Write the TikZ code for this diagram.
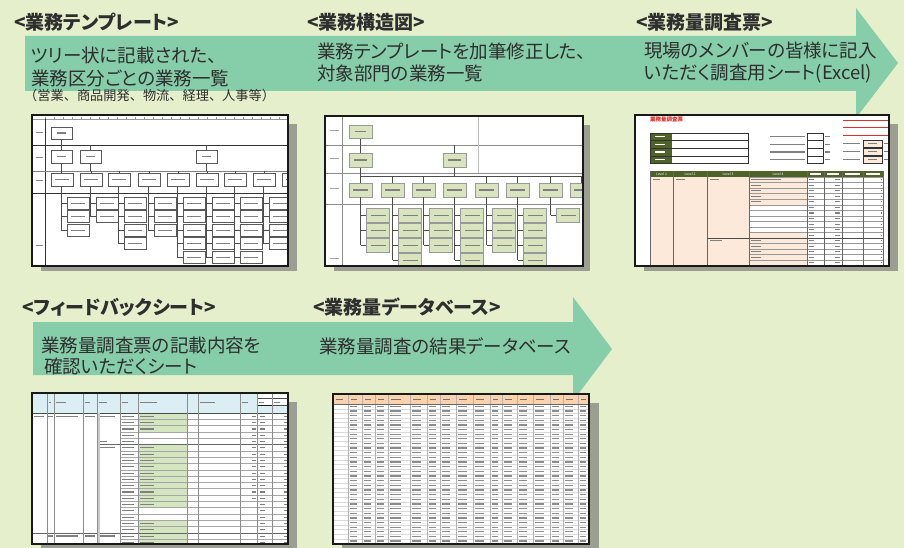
\documentclass[tikz,border=0pt]{standalone}
\usepackage{fontspec}
\setmainfont{Noto Sans CJK JP}[RawFeature=+palt]
\newfontfamily\plainjp{Noto Sans CJK JP}
\definecolor{bgc}{HTML}{E6EFCB}
\definecolor{arrc}{HTML}{86CDA9}
\definecolor{shad}{HTML}{9D9E92}
\definecolor{txtc}{HTML}{2E2E2E}
\definecolor{boxg}{HTML}{D7E4BD}
\definecolor{olive}{HTML}{4F6228}
\definecolor{pinkc}{HTML}{FDE9D9}
\definecolor{blueh}{HTML}{DAEEF3}
\definecolor{greenc}{HTML}{D3E6BF}
\definecolor{orangeh}{HTML}{FAD3AE}
\definecolor{redt}{HTML}{E0302A}
\begin{document}
\begin{tikzpicture}[x=1pt,y=-1pt,
  head/.style={font=\bfseries\fontsize{19}{19}\selectfont, text=txtc, anchor=west, inner sep=0pt},
  body/.style={font=\fontsize{18.5}{22.5}\selectfont, text=txtc, anchor=west, inner sep=0pt, align=left},
  bodyb/.style={font=\fontsize{18.5}{20.5}\selectfont, text=txtc, anchor=west, inner sep=0pt, align=left},
  note/.style={font=\plainjp\fontsize{13.2}{13.2}\selectfont, text=txtc, anchor=west, inner sep=0pt},
  framebox/.style={draw=black!90, line width=2.2pt},
  tline/.style={draw=black!70, line width=0.5pt},
  tbox/.style={draw=black!65, fill=white, line width=0.5pt},
  sbox/.style={draw=black!40, fill=boxg, line width=0.5pt},
  bar/.style={fill=black!50},
  tiny/.style={font=\fontsize{3.4}{3.4}\selectfont, inner sep=0pt}
]
\fill[bgc] (0,0) rectangle (904,548);
\useasboundingbox (0,0) rectangle (904,548);

% ---------------- arrows
\fill[arrc] (25,36) -- (856,36) -- (856,8) -- (898,63) -- (856,118) -- (856,91) -- (25,91) -- cycle;
\fill[arrc] (33,322) -- (573,322) -- (573,297) -- (612,349) -- (573,401) -- (573,375) -- (33,375) -- cycle;

% ---------------- screenshot 1 : template
\fill[shad] (41,124) rectangle (297,271);
\fill[white] (32,115) rectangle (288,266);
\begin{scope}
\clip (33,116) rectangle (287,265);
\draw[black!40, line width=0.4] (33,119) -- (287,119);
\foreach \i in {0,...,27} \draw[black!40, line width=0.3] ({45+\i*9},117) -- ({45+\i*9},119);
\draw[black!80, line width=0.5] (45,119) -- (45,265);
\draw[black!80, line width=0.7] (33,145) -- (287,145);
\draw[black!50, line width=0.5] (33,171) -- (287,171);
\draw[black!80, line width=0.7] (33,193) -- (287,193);
\foreach \y in {132,157,180,245} \fill[black!45] (36,\y) rectangle ++(7,1.2);
\draw[tline] (61.5,139) -- (61.5,150);
\draw[tline] (90.5,145) -- (90.5,150);
\draw[tline] (206.5,145) -- (206.5,150);
\draw[tline] (61.5,163) -- (61.5,173);
\draw[tline] (90.5,163) -- (90.5,171);
\draw[tline] (206.5,163) -- (206.5,171);
\foreach \x in {80,108,138,167,196,224,253,282} \draw[tline] ({\x+11},171) -- ({\x+11},173);
\draw[tbox] (51,127) rectangle ++(21,12);
\fill[bar] (57,132.5) rectangle ++(9,1.2);
\foreach \x in {51,80,196} {
  \draw[tbox] (\x,150) rectangle ++(21,13);
  \fill[bar] ({\x+6},156) rectangle ++(9,1.2);
}
\foreach \x/\n in {51/3,80/2,108/4,138/3,167/5,196/5,224/5,253/4,282/5} {
  \draw[tbox] (\x,173) rectangle ++(22,13);
  \fill[bar] ({\x+4},179) rectangle ++(14,1.2);
  \draw[tline] ({\x+10},186) -- ({\x+10},{197+(\n-1)*13.5+6});
  \foreach \k in {1,...,\n} {
    \draw[tline] ({\x+10},{197+(\k-1)*13.5+6}) -- ({\x+16},{197+(\k-1)*13.5+6});
    \draw[tbox] ({\x+16},{197+(\k-1)*13.5}) rectangle ++(22,12);
    \fill[bar] ({\x+20},{197+(\k-1)*13.5+5.5}) rectangle ++(14,1.2);
  }
}
\end{scope}
\draw[framebox] (32,115) rectangle (288,266);

% ---------------- screenshot 2 : structure
\fill[shad] (334,125) rectangle (590,271);
\fill[white] (325,116) rectangle (583,266);
\begin{scope}
\clip (326,117) rectangle (582,265);
\draw[black!45, line width=0.5] (342,117) -- (342,265);
\foreach \y in {145,173,204} \draw[black!45, line width=0.6] (326,\y) -- (582,\y);
\draw[black!25, line width=0.4] (478,117) -- (478,173);
\foreach \y in {130,158,188,258} \fill[black!35] (330,\y) rectangle ++(9,1);
\draw[tline] (360.5,138) -- (360.5,153);
\draw[tline] (454.5,145) -- (454.5,153);
\draw[tline] (360.5,167) -- (360.5,183);
\draw[tline] (454.5,167) -- (454.5,176);
\draw[tline] (360.5,176) -- (582,176);
\foreach \x in {381,412,475,506,539,570} \draw[tline] ({\x+11.5},176) -- ({\x+11.5},183);
\draw[sbox] (349,125) rectangle ++(23,13);
\fill[bar] (355,131) rectangle ++(11,1.2);
\foreach \x in {349,443} {
  \draw[sbox] (\x,153) rectangle ++(23,14);
  \fill[bar] ({\x+5},159.5) rectangle ++(13,1.2);
}
\foreach \x in {349,381,412,443,475,506,539,570} {
  \draw[sbox] (\x,183) rectangle ++(23,14);
  \fill[bar] ({\x+4},189.5) rectangle ++(15,1.2);
}
\foreach \x/\n in {349/3,381/4,412/3,443/4,475/3,506/4,539/1} {
  \draw[tline] ({\x+11.5},197) -- ({\x+11.5},{208+(\n-1)*15+7});
  \foreach \k in {1,...,\n} {
    \draw[tline] ({\x+11.5},{208+(\k-1)*15+7}) -- ({\x+17.5},{208+(\k-1)*15+7});
    \draw[sbox] ({\x+17.5},{208+(\k-1)*15}) rectangle ++(23,14.5);
    \fill[bar] ({\x+21.5},{208+(\k-1)*15+6.5}) rectangle ++(15,1.2);
  }
}
\end{scope}
\draw[framebox] (325,116) rectangle (583,266);

% ---------------- screenshot 3 : survey sheet
\fill[shad] (644,124) rectangle (898,271);
\fill[white] (635,115) rectangle (889,266);
\begin{scope}
\clip (636,116) rectangle (888,265);
\node[tiny, font=\bfseries\fontsize{5.5}{5.5}\selectfont, text=redt, anchor=west] (stitle) at (650,119.5) {業務量調査票};
\foreach \i in {0,...,3} {
  \fill[olive] (650,{133+\i*7.6}) rectangle ++(22,7.6);
  \draw[black!80, line width=0.4] (650,{133+\i*7.6}) rectangle ++(98,7.6);
  \fill[white] (655,{136.2+\i*7.6}) rectangle ++(10,1.2);
  \fill[black!50] (770,{136.2+\i*7.6}) rectangle ++(35,1.2);
  \draw[black!80, line width=0.4] (807,{133+\i*7.6}) rectangle ++(16,7.6);
  \fill[black!50] (825,{136.2+\i*7.6}) rectangle ++(5,1.2);
}
\foreach \y in {120,127,135} \fill[redt] (843,\y) rectangle ++(46,1.3);
\foreach \i in {0,1,2} {
  \fill[black!50] (843,{143+\i*8}) rectangle ++(17,1.2);
  \filldraw[fill=pinkc, draw=black!80, line width=0.4] (863,{140+\i*8}) rectangle ++(19,7.5);
  \fill[black!50] (868,{143+\i*8}) rectangle ++(9,1.2);
  \fill[black!50] (884,{143+\i*8}) rectangle ++(5,1.2);
}
\fill[olive] (650,171) rectangle (883,177);
\node[tiny, text=white] (lv1) at (661.5,174) {Level 1};
\node[tiny, text=white] (lv2) at (690,174) {Level 2};
\node[tiny, text=white] (lv3) at (728,174) {Level 3};
\node[tiny, text=white] (lv4) at (778,174) {Level 4};
\foreach \a/\b in {807/824,824/842,842/863,863/883} \fill[white] ({\a+3},173.4) rectangle ({\b-3},174.6);
\fill[pinkc] (650,177) rectangle (807,266);
\foreach \k in {5,...,9} \fill[white] (749,{177+\k*5.545}) rectangle ++(58,5.545);
\foreach \k in {0,...,15} {
  \draw[black!40, line width=0.3] (749,{177+\k*5.545}) -- (883,{177+\k*5.545});
  \fill[black!50] (809,{179.2+\k*5.545}) rectangle ++(5,1.1);
  \fill[black!50] (835,{179.2+\k*5.545}) rectangle ++(5,1.1);
  \fill[black!50] (880.5,{179.2+\k*5.545}) rectangle ++(1.5,1.1);
}
\foreach \k in {0,...,4,11,12,13,14} \fill[black!50] (751,{179.2+\k*5.545}) rectangle ++({\k==0 ? 30 : 10},1.1);
\fill[black!50] (653,179.2) rectangle ++(7,1.1);
\fill[black!50] (676,179.2) rectangle ++(9,1.1);
\fill[black!50] (710,179.2) rectangle ++(9,1.1);
\fill[black!50] (710,240.2) rectangle ++(12,1.1);
\foreach \x in {673,707,749,807,824,842,863,883} \draw[black!60, line width=0.4] (\x,171) -- (\x,266);
\draw[black!60, line width=0.4] (650,171) -- (650,266);
\draw[black!70, line width=0.5] (707,238) -- (883,238);
\end{scope}
\draw[framebox] (635,115) rectangle (889,266);

% ---------------- screenshot 4 : feedback sheet
\fill[shad] (41,402) rectangle (297,548);
\fill[white] (32,393) rectangle (288,544);
\begin{scope}
\clip (33,394) rectangle (287,543);
\fill[blueh] (32,393) rectangle (257,413);
\fill[blueh] (257,405) rectangle (288,413);
\draw[black!70, line width=0.4] (257,398) -- (288,398);
\draw[black!70, line width=0.4] (257,405) -- (288,405);
\draw[black!90, line width=0.8] (257,405) rectangle (272,413);
\foreach \a/\b in {47/54,54/83,83/97,97/120,120/138,138/187,198/240,240/257,257/272,272/288} \fill[black!50] ({\a+2},402) rectangle ({\a+2+0.35*(\b-\a)},403.2);
\foreach \k in {0,1,2,5,6,7,8,9,10,11,12,13,14,17,18,19,20} \fill[greenc] (138,{413+\k*6.3}) rectangle ++(49,6.3);
\foreach \k in {0,...,20} {
  \draw[black!35, line width=0.3] (120,{413+\k*6.3}) -- (288,{413+\k*6.3});
  \fill[black!50] (122,{415.8+\k*6.3}) rectangle ++(12,1.1);
  \fill[black!50] (260,{415.8+\k*6.3}) rectangle ++(5,1.1);
  \fill[black!50] (284,{415.8+\k*6.3}) rectangle ++(3,1.1);
}
\foreach \k in {0,1,2,5,6,7,8,9,10,11,12,13,14,17,18,19,20} \fill[black!50] (140,{415.8+\k*6.3}) rectangle ++(14,1.1);
\foreach \k in {0,...,4,5,6,7,8,9,10,11,12,13} \fill[black!50] (252,{415.8+\k*6.3}) rectangle ++(4,1.1);
\fill[black!50] (34,415.8) rectangle ++(10,1.1);
\foreach \y in {415.8,535.4} {
  \fill[black!50] (48,\y) rectangle ++(5,1.1);
  \fill[black!50] (56,\y) rectangle ++(22,1.1);
  \fill[black!50] (85,\y) rectangle ++(10,1.1);
  \fill[black!50] (99,\y) rectangle ++(16,1.1);
}
\fill[black!50] (99,447.3) rectangle ++(16,1.1);
\fill[black!50] (99,441) rectangle ++(8,1.1);
\draw[black!70, line width=0.4] (32,413) -- (288,413);
\draw[black!60, line width=0.4] (97,444.5) -- (288,444.5);
\draw[black!60, line width=0.4] (32,532.7) -- (288,532.7);
\foreach \x in {47,54,83,97,120,138,187,198,240,257,272} \draw[black!45, line width=0.4] (\x,393) -- (\x,544);
\draw[black!20, line width=2pt] (99,413) -- (99,544);
\end{scope}
\draw[framebox] (32,393) rectangle (288,544);

% ---------------- screenshot 5 : database
\fill[shad] (342,403) rectangle (599,548);
\fill[white] (333,394) rectangle (589,544);
\begin{scope}
\clip (334,395) rectangle (588,543);
\fill[orangeh] (333,394) rectangle (589,404);
\foreach \a/\b in {333/348,348/362,362/375,375/388,388/410,410/427,427/440,440/456,456/473,473/490,490/502,502/517,517/533,533/550,550/563,563/578,578/589} {
  \fill[black!55] ({\a+3},398.5) rectangle ({\a+3+0.45*(\b-\a)},399.8);
}
\foreach \rr in {0,...,29} {
  \draw[black!15, line width=0.3] (333,{404+\rr*4.65}) -- (589,{404+\rr*4.65});
  \foreach \a/\b in {348/362,362/375,375/388,388/410,410/427,427/440,440/456,456/473,473/490,490/502,502/517,517/533,533/550,550/563,563/578,578/589} {
    \fill[black!45] ({\a+2},{405.6+\rr*4.65}) rectangle ({\a+2+0.5*(\b-\a)},{406.9+\rr*4.65});
  }
}
\foreach \x in {348,362,375,388,410,427,440,456,473,490,502,517,533,550,563,578} \draw[black!30, line width=0.3] (\x,394) -- (\x,544);
\draw[black!60, line width=0.4] (333,404) -- (589,404);
\end{scope}
\draw[framebox] (333,394) rectangle (589,544);

% ---------------- texts
\node[head] (h1) at (14,22) {<業務テンプレート>};
\node[head] (h2) at (307,22) {<業務構造図>};
\node[head] (h3) at (636,22) {<業務量調査票>};
\node[body] (t1) at (31,67) {ツリー状に記載された、\\業務区分ごとの業務一覧};
\node[note] (t1b) at (24,95) {（営業、商品開発、物流、経理、人事等）};
\node[body] (t2) at (317,62.5) {業務テンプレートを加筆修正した、\\対象部門の業務一覧};
\node[body] (t3) at (644,62.5) {現場のメンバーの皆様に記入\\いただく調査用シート(Excel)};
\node[head] (h4) at (22,307) {<フィードバックシート>};
\node[head] (h5) at (313,307) {<業務量データベース>};
\node[bodyb] (t4) at (41,356) {業務量調査票の記載内容を\\\hspace{3pt}確認いただくシート};
\node[body] (t5) at (319,346) {業務量調査の結果データベース};
\end{tikzpicture}
\end{document}
